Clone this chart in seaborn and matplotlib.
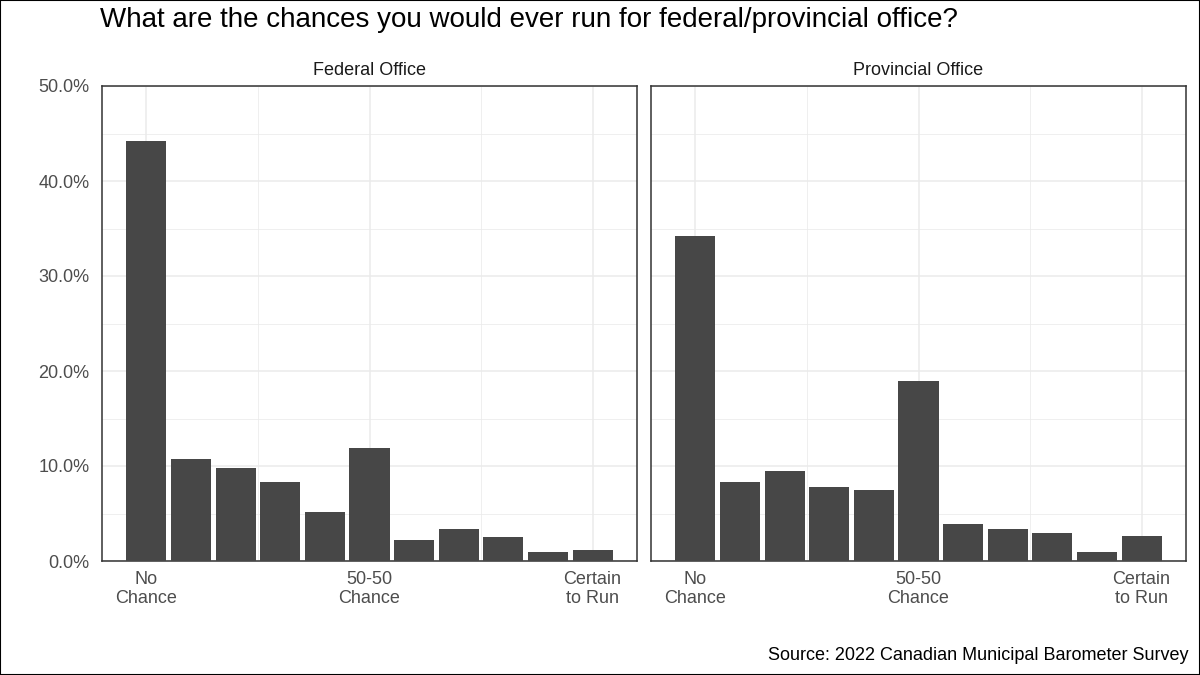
import numpy as np
import pandas as pd
import seaborn as sns
import matplotlib.pyplot as plt
from matplotlib.patches import Rectangle
from matplotlib.ticker import FixedLocator, FuncFormatter

# values (percent of respondents, scale 0..10)
scale = list(range(11))
federal = [44.2, 10.7, 9.8, 8.3, 5.2, 11.9, 2.2, 3.4, 2.5, 0.9, 1.15]
provincial = [34.2, 8.3, 9.45, 7.8, 7.45, 19.0, 3.85, 3.4, 2.95, 1.0, 2.6]
panels = ["Federal Office", "Provincial Office"]
tick_pos = [0, 5, 10]
tick_labels = ["No\nChance", "50-50\nChance", "Certain\nto Run"]

df = pd.DataFrame({
    "scale": scale * 2,
    "pct": federal + provincial,
    "office": [panels[0]] * 11 + [panels[1]] * 11,
})

sns.set_theme(style="white")
plt.rcParams['font.family'] = ['Liberation Sans', 'DejaVu Sans']

fig = plt.figure(figsize=(12, 6.75), dpi=100)
fig.patches.append(Rectangle((0, 0), 1, 1, transform=fig.transFigure,
                             fill=False, edgecolor="black", lw=1.5))

lefts = [102 / 1200, 651 / 1200]
w = 535 / 1200
bottom = 1 - 561 / 675
h = (561 - 86) / 675

for i, office in enumerate(panels):
    ax = fig.add_axes([lefts[i], bottom, w, h])
    sub = df[df["office"] == office]
    sns.barplot(data=sub, x="scale", y="pct", order=scale, color="#474747",
                width=0.9, saturation=1, ax=ax, zorder=3, linewidth=0)
    ax.set_xlim(-0.995, 10.995)
    ax.set_ylim(0, 50)
    # grid lines
    for y in range(0, 51, 10):
        ax.axhline(y, color="#EBEBEB", lw=1.1, zorder=0)
    for y in range(5, 50, 10):
        ax.axhline(y, color="#EBEBEB", lw=0.55, zorder=0)
    for x in tick_pos:
        ax.axvline(x, color="#EBEBEB", lw=1.1, zorder=0)
    for x in [2.5, 7.5]:
        ax.axvline(x, color="#EBEBEB", lw=0.55, zorder=0)
    ax.xaxis.set_major_locator(FixedLocator(tick_pos))
    ax.set_xticklabels(tick_labels, linespacing=1.2)
    ax.tick_params(axis="both", labelsize=13, labelcolor="#4D4D4D", length=0)
    ax.tick_params(axis="x", pad=7)
    ax.tick_params(axis="y", pad=9)
    if i == 0:
        ax.yaxis.set_major_locator(FixedLocator(range(0, 51, 10)))
        ax.yaxis.set_major_formatter(FuncFormatter(lambda v, p: f"{v:.1f}%"))
    else:
        ax.set_yticks([])
    ax.set_xlabel("")
    ax.set_ylabel("")
    for s in ax.spines.values():
        s.set_visible(True)
        s.set_color("#333333")
        s.set_linewidth(1.1)
    ax.set_title(office, fontsize=13, color="#1A1A1A", pad=8)

fig.text(100 / 1200, 1 - 20 / 675, "What are the chances you would ever run for federal/provincial office?",
         fontsize=20, ha="left", va="center", color="black")
fig.text(1188 / 1200, 1 - 655 / 675, "Source: 2022 Canadian Municipal Barometer Survey",
         fontsize=13, ha="right", va="center", color="black")

fig.savefig("out.png", dpi=100)
